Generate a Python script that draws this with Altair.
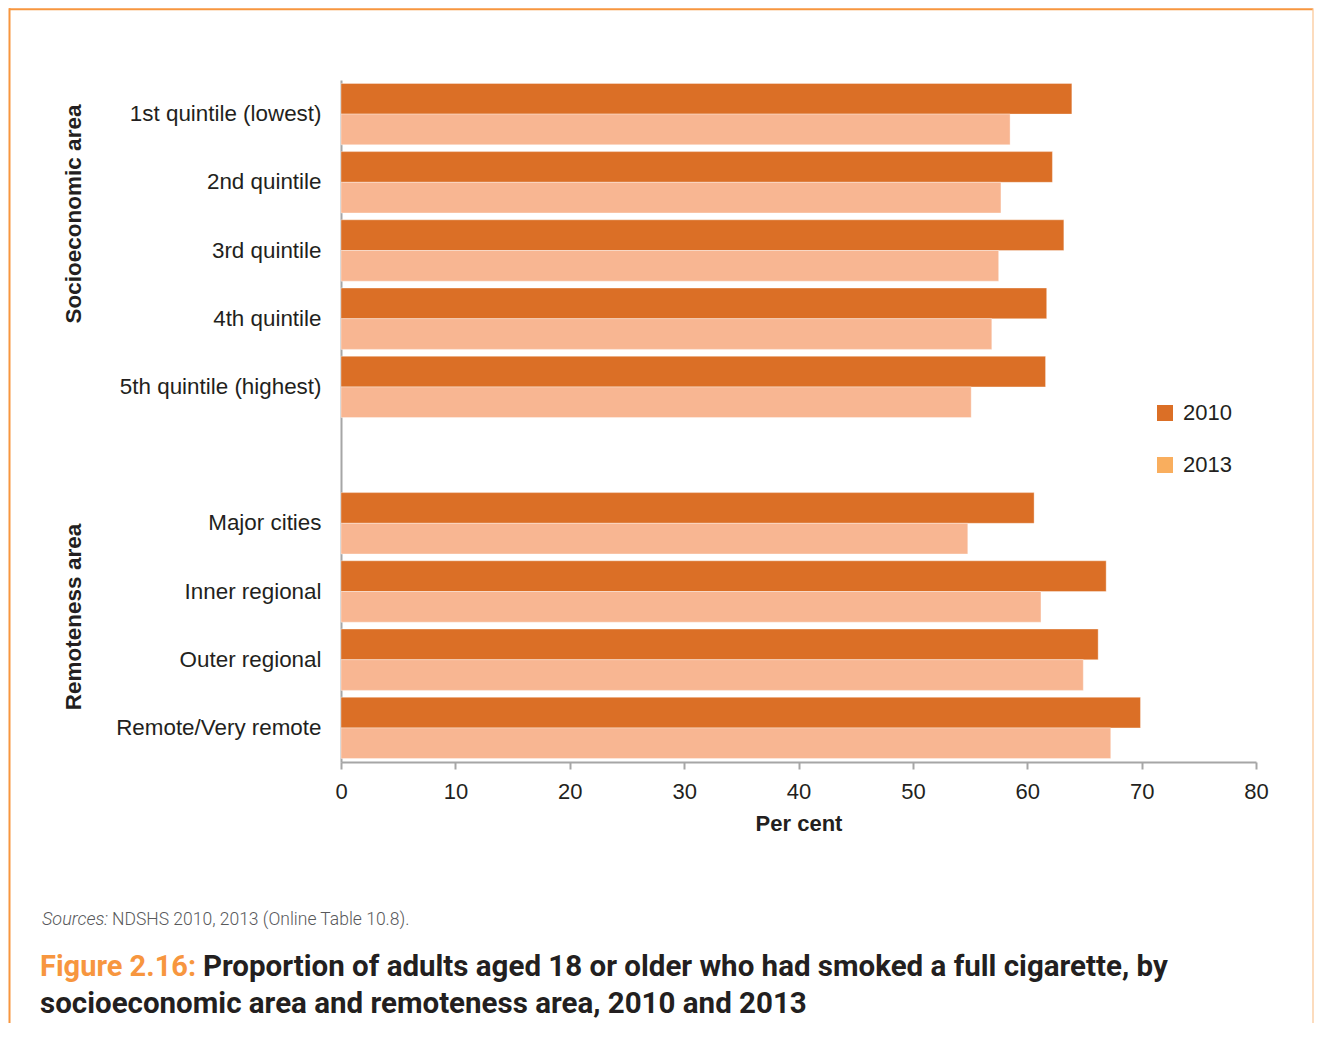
import altair as alt
import pandas as pd

categories = ["1st quintile (lowest)", "2nd quintile", "3rd quintile", "4th quintile",
              "5th quintile (highest)", "Major cities", "Inner regional", "Outer regional",
              "Remote/Very remote"]
values_2010 = [63.9, 62.2, 63.2, 61.7, 61.6, 60.6, 66.9, 66.2, 69.9]
values_2013 = [58.5, 57.7, 57.5, 56.9, 55.1, 54.8, 61.2, 64.9, 67.3]
years = ["2010", "2013"]
x_ticks = [0, 10, 20, 30, 40, 50, 60, 70, 80]

y_domain = categories[:5] + [" "] + categories[5:]

rows = []
for c, a, b in zip(categories, values_2010, values_2013):
    rows.append({"cat": c, "year": "2010", "value": a})
    rows.append({"cat": c, "year": "2013", "value": b})
df = pd.DataFrame(rows)

FONT = "Liberation Sans"
DARK = "#231F20"
GRAY = "#A6A6A6"
BORDER = "#F7963F"

W, H = 915, 682
TOTAL_W, TOTAL_H = 1306, 1015
PAD_L, PAD_T = 333, 72

y_enc = alt.Y("cat:N", scale=alt.Scale(domain=y_domain, paddingInner=0.1, paddingOuter=0.05),
              axis=alt.Axis(title=None, ticks=False, grid=False, domainColor=GRAY,
                            domainWidth=2, labelFontSize=22.4, labelFont=FONT,
                            labelColor=DARK, labelPadding=20, labelLimit=400))
x_enc = alt.X("value:Q", scale=alt.Scale(domain=[0, 80], nice=False),
              axis=alt.Axis(values=x_ticks, grid=False, tickSize=7, tickColor=GRAY, tickWidth=2,
                            domainColor=GRAY, domainWidth=2, labelFontSize=22, labelFont=FONT,
                            labelColor=DARK, labelPadding=12, labelFlush=False,
                            title="Per cent", titleFontSize=22, titleFont=FONT,
                            titleFontWeight="bold", titleColor=DARK, titlePadding=11))

bars = alt.Chart(df).mark_bar(stroke="white", strokeWidth=0.6, strokeOpacity=0.6).encode(
    y=y_enc,
    x=x_enc,
    yOffset=alt.YOffset("year:N", scale=alt.Scale(domain=years, paddingInner=0, paddingOuter=0)),
    color=alt.Color("year:N", scale=alt.Scale(domain=years, range=["#DB6F26", "#F8B692"]),
                    legend=None),
)

legend_layer = alt.Chart(df).mark_bar(opacity=0).encode(
    y=alt.Y("cat:N", scale=alt.Scale(domain=y_domain)),
    x=alt.X("value:Q"),
    color=alt.Color("year:N", scale=alt.Scale(domain=years, range=["#DB6F26", "#F9AE5E"]),
                    legend=alt.Legend(title=None, orient="none", legendX=813, legendY=322,
                                      symbolType="square", symbolSize=256, symbolOpacity=1,
                                      symbolStrokeWidth=0, labelFontSize=22, labelFont=FONT,
                                      labelColor=DARK, rowPadding=30, labelOffset=7,
                                      padding=0)),
)

one = pd.DataFrame({"a": [0]})


def text(t, x, y, size, color=DARK, weight="normal", font=FONT, angle=0, align="left",
         style="normal"):
    return alt.Chart(one).mark_text(text=t, fontSize=size, color=color, fontWeight=weight,
                                    font=font, angle=angle, align=align, baseline="middle",
                                    fontStyle=style).encode(
        x=alt.value(x), y=alt.value(y))


bottom = TOTAL_H - PAD_T
annotations = [
    text("Socioeconomic area", 74 - 341, 214 - 80, 22.5, weight="bold", angle=270,
         align="center"),
    text("Remoteness area", 74 - 341, 617 - 80, 22.5, weight="bold", angle=270, align="center"),
    text("Sources:", 42 - 341, 920 - 80, 18, color="#58595B", font="Roboto", style="italic",
         weight=300),
    text("NDSHS 2010, 2013 (Online Table 10.8).", 112 - 341, 920 - 80, 17.5, color="#58595B",
         font="Roboto", weight=300),
    text("Figure 2.16:", 40 - 341, 967 - 80, 29, color="#F7963F", font="Roboto", weight="bold"),
    text("Proportion of adults aged 18 or older who had smoked a full cigarette, by",
         203 - 341, 967 - 80, 29.5, font="Roboto", weight="bold"),
    text("socioeconomic area and remoteness area, 2010 and 2013",
         40 - 341, 1004 - 80, 29.5, font="Roboto", weight="bold"),
]

border = [
    alt.Chart(one).mark_rule(color=BORDER, strokeWidth=2).encode(
        x=alt.value(-PAD_L + 1), x2=alt.value(TOTAL_W - PAD_L - 1), y=alt.value(-PAD_T + 1.2)),
    alt.Chart(one).mark_rule(color=BORDER, strokeWidth=2).encode(
        x=alt.value(-PAD_L + 1.5), y=alt.value(-PAD_T + 0.2), y2=alt.value(bottom)),
    alt.Chart(one).mark_rule(color="#FAC593", strokeWidth=1.2).encode(
        x=alt.value(TOTAL_W - PAD_L - 1), y=alt.value(-PAD_T + 0.2), y2=alt.value(bottom)),
]

chart = alt.layer(bars, legend_layer, *annotations, *border).resolve_scale(
    color="independent"
).properties(
    width=W, height=H,
    background="white",
    autosize=alt.AutoSizeParams(type="none"),
    padding={"left": PAD_L, "top": PAD_T, "right": TOTAL_W - PAD_L - W,
             "bottom": TOTAL_H - PAD_T - H},
).configure_view(stroke="transparent", strokeWidth=0)

chart.save("out.html", embed_options={"renderer": "svg", "actions": False})
